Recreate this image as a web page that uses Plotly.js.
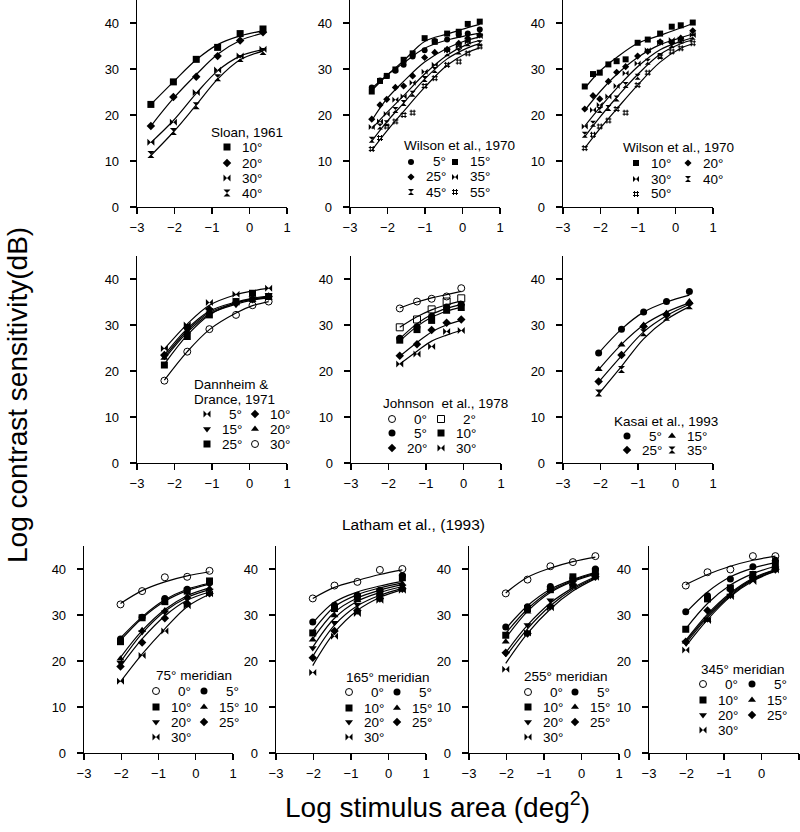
<!DOCTYPE html>
<html><head><meta charset="utf-8">
<script src="https://cdn.plot.ly/plotly-3.0.1.min.js"></script>
<style>body{margin:0;background:#fff}</style>
</head><body>
<div id="chart" style="width:800px;height:832px"></div>
<script>
// ================= DATA =================
// Sloan, 1961
const sloanNames = ['10°','20°','30°','40°'];
const sloanX = [-2.63,-2.03,-1.42,-0.85,-0.25,0.36];
const sloan10 = [22.3,27.2,32.1,34.7,37.7,38.7];
const sloan20 = [17.6,23.9,28.3,32.8,36.2,38.0];
const sloan30 = [14.1,18.4,24.9,29.8,32.8,34.3];
const sloan40 = [11.4,16.4,22.0,28.1,32.3,33.8];
const sloan10Fit = [22.3,27.2,32.0,35.3,37.2,38.3];
const sloan20Fit = [17.6,23.6,28.8,33.2,36.2,37.8];
const sloan30Fit = [14.0,18.8,24.7,29.6,32.8,34.2];
const sloan40Fit = [11.2,16.3,22.2,27.8,32.0,33.9];

// Wilson et al., 1970 (panel A)
const wilsonX = [-2.42,-2.2,-2.02,-1.79,-1.57,-1.33,-1.01,-0.74,-0.41,-0.1,0.14,0.46];
const wilsonFitX = [-2.42,-2.02,-1.57,-1.01,-0.41,0.14,0.46];
const wilsonANames = ['5°','15°','25°','35°','45°','55°'];
const wA5  = [26.0,27.5,28.5,29.6,30.9,32.7,34.1,36.1,36.4,37.4,37.7,38.6];
const wA15 = [25.1,27.4,28.5,29.9,32.0,33.4,36.7,35.9,37.7,38.1,39.8,40.3];
const wA25 = [19.1,22.2,23.4,26.0,26.3,28.5,32.5,33.6,34.3,35.6,36.7,37.4];
const wA35 = [17.4,18.6,20.2,23.3,24.0,27.0,29.4,30.9,34.1,34.9,35.9,37.2];
const wA45 = [14.6,17.5,18.2,21.1,22.6,24.6,27.8,29.8,33.4,33.8,35.6,35.6];
const wA55 = [12.6,15.0,17.5,18.6,20.0,20.5,26.3,28.0,30.9,31.6,33.4,34.9];
const wA5Fit  = [25.8,28.6,31.3,34.5,36.3,37.3,37.8];
const wA15Fit = [25.3,28.6,31.8,36.0,37.6,39.0,39.7];
const wA25Fit = [18.8,23.5,27.3,31.5,34.5,36.3,37.0];
const wA35Fit = [17.0,20.5,24.2,28.9,33.0,35.4,36.2];
const wA45Fit = [14.3,18.5,22.6,27.8,32.2,34.6,35.5];
const wA55Fit = [12.3,16.5,20.8,26.0,30.8,33.6,34.6];

// Wilson et al., 1970 (panel B)
const wilsonBNames = ['10°','20°','30°','40°','50°'];
const wB10 = [26.2,28.9,29.2,31.0,31.7,32.1,35.7,36.4,37.7,39.2,39.5,40.1];
const wB20 = [21.3,24.2,23.5,27.3,29.3,30.5,32.8,33.8,35.9,35.7,36.7,38.3];
const wB30 = [17.5,21.1,22.2,24.0,26.3,29.1,31.2,34.1,35.7,36.3,36.4,37.4];
const wB40 = [15.7,18.1,21.1,21.5,23.6,26.5,28.3,31.6,32.8,35.2,36.2,37.0];
const wB50 = [12.8,15.7,17.5,18.8,21.3,20.5,26.5,29.2,32.7,33.8,34.5,35.6];
const wB10Fit = [25.8,29.5,32.5,35.6,37.3,38.9,39.9];
const wB20Fit = [21.0,25.0,28.8,32.5,35.3,36.8,37.6];
const wB30Fit = [17.6,21.6,25.8,30.5,34.2,36.0,36.8];
const wB40Fit = [15.3,19.5,23.8,28.8,33.2,35.5,36.3];
const wB50Fit = [12.8,17.0,21.3,26.5,31.5,34.5,35.5];

// Dannheim & Drance, 1971
const dannNames = ['5°','10°','15°','20°','25°','30°'];
const dannX = [-2.27,-1.66,-1.07,-0.36,0.08,0.51];
const dann5  = [24.9,30.0,34.9,36.7,36.9,38.0];
const dann10 = [23.5,29.4,33.4,34.9,35.6,36.2];
const dann15 = [23.1,28.9,33.3,34.4,35.8,36.5];
const dann20 = [22.8,28.6,32.9,34.7,35.4,35.8];
const dann25 = [21.3,27.5,32.2,35.1,36.9,36.2];
const dann30 = [17.9,24.2,29.1,32.2,34.3,35.1];
const dann5Fit  = [24.8,30.2,34.3,36.6,37.4,38.0];
const dann10Fit = [23.5,29.2,33.0,35.0,35.8,36.3];
const dann15Fit = [23.0,28.8,32.7,34.8,35.6,36.1];
const dann20Fit = [22.6,28.4,32.4,34.5,35.4,35.9];
const dann25Fit = [21.5,27.8,32.2,34.8,35.6,36.0];
const dann30Fit = [18.0,24.2,29.0,32.6,34.2,35.1];

// Johnson et al., 1978
const johnNames = ['0°','2°','5°','10°','20°','30°'];
const johnX = [-1.70,-1.24,-0.85,-0.45,-0.06];
const john0  = [33.6,35.1,35.7,36.2,38.0];
const john2  = [29.5,31.2,33.4,35.1,35.8];
const john5  = [27.1,29.6,31.9,33.9,34.5];
const john10 = [26.7,29.0,31.0,33.2,33.8];
const john20 = [23.3,25.8,28.9,30.5,31.2];
const john30 = [21.5,23.7,25.3,28.6,28.8];
const john0Fit  = [33.7,35.0,35.9,36.6,37.3];
const john2Fit  = [29.5,31.8,33.3,34.4,35.2];
const john5Fit  = [27.0,30.3,32.3,33.6,34.5];
const john10Fit = [26.5,29.7,31.7,33.0,33.9];
const john20Fit = [23.2,26.2,28.5,30.0,31.0];
const john30Fit = [21.5,24.3,26.5,27.8,28.8];

// Kasai et al., 1993
const kasaiNames = ['5°','15°','25°','35°'];
const kasaiX = [-2.05,-1.44,-0.85,-0.24,0.37];
const kasai5  = [23.9,29.1,32.8,35.1,37.3];
const kasai15 = [20.4,25.7,30.0,32.6,35.1];
const kasai25 = [17.7,23.5,29.7,32.2,34.7];
const kasai35 = [15.2,20.3,28.3,31.7,34.2];
const kasai5Fit  = [23.9,29.1,32.8,35.0,36.5];
const kasai15Fit = [20.3,25.8,30.0,32.8,34.8];
const kasai25Fit = [17.6,23.3,28.5,32.0,34.5];
const kasai35Fit = [15.0,21.0,27.0,31.2,34.0];

// Latham et al., 1993
const lathamNames = ['0°','5°','10°','15°','20°','25°','30°'];
const lathamX = [-2.02,-1.44,-0.83,-0.23,0.37];
// 75° meridian
const m75_0  = [32.3,35.2,38.2,38.3,39.6];
const m75_5  = [24.8,29.5,33.6,35.6,37.0];
const m75_10 = [24.2,29.4,32.9,35.2,37.4];
const m75_15 = [20.5,26.7,31.0,34.0,35.8];
const m75_20 = [19.6,26.3,30.6,33.5,35.3];
const m75_25 = [18.8,24.0,29.3,32.5,34.7];
const m75_30 = [15.6,21.2,26.5,32.0,34.6];
const m75_0Fit  = [32.5,35.3,37.2,38.5,39.4];
const m75_5Fit  = [25.0,29.6,33.3,35.6,36.9];
const m75_10Fit = [24.5,29.3,33.0,35.3,36.7];
const m75_15Fit = [20.8,26.6,31.2,34.2,35.9];
const m75_20Fit = [19.8,26.0,30.8,33.8,35.5];
const m75_25Fit = [18.8,24.8,29.8,33.2,35.0];
const m75_30Fit = [15.5,21.5,27.0,31.8,34.5];
// 165° meridian
const m165_0  = [33.6,36.4,37.2,39.8,40.0];
const m165_5  = [28.5,32.1,34.3,35.4,38.6];
const m165_10 = [26.1,31.4,33.9,35.0,38.1];
const m165_15 = [24.6,29.9,33.2,34.5,36.8];
const m165_20 = [22.8,28.3,32.3,34.1,36.2];
const m165_25 = [20.7,26.5,31.0,33.6,35.7];
const m165_30 = [17.5,25.4,30.3,33.2,35.4];
const m165_0Fit  = [33.6,36.0,37.5,38.8,39.8];
const m165_5Fit  = [28.3,32.8,35.0,36.3,37.3];
const m165_10Fit = [26.5,31.8,34.4,35.9,37.0];
const m165_15Fit = [24.8,30.6,33.7,35.4,36.6];
const m165_20Fit = [23.0,29.3,33.0,34.9,36.2];
const m165_25Fit = [21.0,27.8,32.0,34.3,35.8];
const m165_30Fit = [19.0,26.2,31.0,33.8,35.5];
// 255° meridian
const m255_0  = [34.7,37.7,40.6,41.5,42.8];
const m255_5  = [27.4,31.8,36.2,38.0,40.0];
const m255_10 = [25.6,31.4,35.5,38.3,39.5];
const m255_15 = [24.2,30.7,35.8,37.7,39.1];
const m255_20 = [21.6,27.8,33.2,37.0,38.7];
const m255_25 = [21.8,26.0,31.9,36.6,38.3];
const m255_30 = [18.2,26.1,31.6,36.2,38.2];
const m255_0Fit  = [34.8,38.2,40.2,41.6,42.6];
const m255_5Fit  = [27.0,32.0,35.6,37.7,39.3];
const m255_10Fit = [26.0,31.3,35.2,37.5,39.1];
const m255_15Fit = [25.0,30.8,34.9,37.3,38.9];
const m255_20Fit = [21.8,27.8,32.6,35.9,38.3];
const m255_25Fit = [21.0,27.0,32.0,35.6,38.1];
const m255_30Fit = [19.5,26.0,31.3,35.2,37.9];
// 345° meridian
const m345_0  = [36.4,39.3,39.9,42.8,42.8];
const m345_5  = [30.7,34.2,37.8,40.5,41.9];
const m345_10 = [26.9,33.5,35.9,38.8,41.2];
const m345_15 = [24.2,28.9,34.4,38.3,40.5];
const m345_20 = [24.0,29.1,34.2,37.8,40.1];
const m345_25 = [24.2,31.0,35.5,38.2,39.9];
const m345_30 = [22.4,28.8,34.0,37.3,39.8];
const m345_0Fit  = [36.6,38.8,40.6,41.9,42.8];
const m345_5Fit  = [30.5,35.0,38.3,40.2,41.4];
const m345_10Fit = [27.0,32.5,36.5,39.0,40.6];
const m345_15Fit = [24.2,29.8,34.5,37.8,39.8];
const m345_20Fit = [23.8,29.5,34.2,37.6,39.6];
const m345_25Fit = [24.5,30.2,34.8,38.0,39.9];
const m345_30Fit = [23.2,29.0,34.0,37.4,39.5];

// Axis ticks
const xTicks = [-3,-2,-1,0,1];
const yTicks = [0,10,20,30,40];

// ================= LAYOUT / STYLE =================
const W = 800, H = 832;
const FONT = '"Liberation Sans", Arial, Helvetica, sans-serif';
const latSyms = ['circle-open','circle','square','triangle-up','triangle-down','diamond','bowtie'];
function latLeg(c1, c2, r){ return [[c1,r[0]],[c2,r[0]],[c1,r[1]],[c2,r[1]],[c1,r[2]],[c2,r[2]],[c1,r[3]]]; }

const panels = [
 {gx:[137,287], gy:[0,207], x:sloanX, fx:sloanX, names:sloanNames,
  ys:[sloan10,sloan20,sloan30,sloan40], fits:[sloan10Fit,sloan20Fit,sloan30Fit,sloan40Fit],
  syms:['square','diamond','bowtie','hourglass'], size:7,
  leg:[[227,147],[227,163],[227,178],[227,193]],
  titles:[['Sloan, 1961',210,132]]},
 {gx:[350,500], gy:[0,207], x:wilsonX, fx:wilsonFitX, names:wilsonANames,
  ys:[wA5,wA15,wA25,wA35,wA45,wA55], fits:[wA5Fit,wA15Fit,wA25Fit,wA35Fit,wA45Fit,wA55Fit],
  syms:['circle','square','diamond','bowtie','hourglass','hash-open'], size:6,
  leg:[[411,162],[455,162],[411,177],[455,177],[411,192],[455,192]],
  titles:[['Wilson et al., 1970',403,146]]},
 {gx:[563,713], gy:[0,207], x:wilsonX, fx:wilsonFitX, names:wilsonBNames,
  ys:[wB10,wB20,wB30,wB40,wB50], fits:[wB10Fit,wB20Fit,wB30Fit,wB40Fit,wB50Fit],
  syms:['square','diamond','bowtie','hourglass','hash-open'], size:6,
  leg:[[636,163],[688,163],[636,179],[688,179],[636,194]],
  titles:[['Wilson et al., 1970',622,147]]},
 {gx:[137,287], gy:[256,463], x:dannX, fx:dannX, names:dannNames,
  ys:[dann5,dann10,dann15,dann20,dann25,dann30], fits:[dann5Fit,dann10Fit,dann15Fit,dann20Fit,dann25Fit,dann30Fit],
  syms:['bowtie','diamond','triangle-down','triangle-up','square','circle-open'], size:7,
  leg:[[207,414],[255,414],[207,429],[255,429],[207,444],[255,444]],
  titles:[['Dannheim &',193,384],['Drance, 1971',193,399]]},
 {gx:[351,501], gy:[256,463], x:johnX, fx:johnX, names:johnNames,
  ys:[john0,john2,john5,john10,john20,john30], fits:[john0Fit,john2Fit,john5Fit,john10Fit,john20Fit,john30Fit],
  syms:['circle-open','square-open','circle','square','diamond','bowtie'], size:7,
  leg:[[392,419],[441,419],[392,433],[441,433],[392,448],[441,448]],
  titles:[['Johnson\u00a0 et al., 1978',382,403]]},
 {gx:[563,713], gy:[256,463], x:kasaiX, fx:kasaiX, names:kasaiNames,
  ys:[kasai5,kasai15,kasai25,kasai35], fits:[kasai5Fit,kasai15Fit,kasai25Fit,kasai35Fit],
  syms:['circle','triangle-up','diamond','hourglass'], size:7,
  leg:[[627,436],[672,436],[627,450],[672,450]],
  titles:[['Kasai et al., 1993',613,421]]},
 {gx:[84,233], gy:[546,753], x:lathamX, fx:lathamX, names:lathamNames,
  ys:[m75_0,m75_5,m75_10,m75_15,m75_20,m75_25,m75_30], fits:[m75_0Fit,m75_5Fit,m75_10Fit,m75_15Fit,m75_20Fit,m75_25Fit,m75_30Fit],
  syms:latSyms, size:7, leg:latLeg(156,204,[691,707,722,737]),
  titles:[['75° meridian',155,675]]},
 {gx:[276,426], gy:[546,753], x:lathamX, fx:lathamX, names:lathamNames,
  ys:[m165_0,m165_5,m165_10,m165_15,m165_20,m165_25,m165_30], fits:[m165_0Fit,m165_5Fit,m165_10Fit,m165_15Fit,m165_20Fit,m165_25Fit,m165_30Fit],
  syms:latSyms, size:7, leg:latLeg(349,397,[692,708,722,737]),
  titles:[['165° meridian',345,677]]},
 {gx:[469,619], gy:[546,753], x:lathamX, fx:lathamX, names:lathamNames,
  ys:[m255_0,m255_5,m255_10,m255_15,m255_20,m255_25,m255_30], fits:[m255_0Fit,m255_5Fit,m255_10Fit,m255_15Fit,m255_20Fit,m255_25Fit,m255_30Fit],
  syms:latSyms, size:7, leg:latLeg(528,575,[692,707,722,737]),
  titles:[['255° meridian',523,676]]},
 {gx:[649,799], gy:[546,753], x:lathamX, fx:lathamX, names:lathamNames,
  ys:[m345_0,m345_5,m345_10,m345_15,m345_20,m345_25,m345_30], fits:[m345_0Fit,m345_5Fit,m345_10Fit,m345_15Fit,m345_20Fit,m345_25Fit,m345_30Fit],
  syms:latSyms, size:7, leg:latLeg(703,752,[684,700,715,730]),
  titles:[['345° meridian',700,669]]}
];

const layout = {
  width: W, height: H, margin:{l:0,r:0,t:0,b:0},
  paper_bgcolor:'#fff', plot_bgcolor:'rgba(0,0,0,0)',
  font:{family:FONT, color:'#000', size:13},
  annotations: [], hovermode:false
};
const traces = [];
let nLeg = 0;
const LABEL_OFFSET = 36;   // legend label right edge, px right of the legend symbol
function px(x){ return x / W; }
function py(y){ return 1 - y / H; }
function newLegend(mx, my){
  nLeg++;
  const id = nLeg === 1 ? 'legend' : 'legend' + nLeg;
  layout[id] = {x: px(mx - 20), y: py(my), xanchor:'left', yanchor:'middle',
    bgcolor:'rgba(0,0,0,0)', borderwidth:0, orientation:'v',
    font:{family:FONT, size:6, color:'rgba(255,255,255,0)'}, itemclick:false, itemdoubleclick:false};
  return id;
}
function annot(text, x, y, opts){
  layout.annotations.push(Object.assign({text, x:px(x), y:py(y), xref:'paper', yref:'paper',
    showarrow:false, xanchor:'left', yanchor:'middle', borderpad:0,
    font:{family:FONT, size:13.5, color:'#000'}}, opts||{}));
}

panels.forEach((p, i) => {
  const n = i === 0 ? '' : String(i + 1);
  const axStyle = {showline:true, linecolor:'#000', linewidth:1.3, ticks:'outside', ticklen:6,
    tickwidth:1.3, tickcolor:'#000', showgrid:false, zeroline:false, fixedrange:true,
    tickfont:{family:FONT, size:13, color:'#000'}};
  layout['xaxis' + n] = Object.assign({}, axStyle, {domain:[px(p.gx[0]), px(p.gx[1])], anchor:'y' + n,
    range:[-3,1], tickmode:'array', tickvals:xTicks, ticklabelstandoff:2});
  layout['yaxis' + n] = Object.assign({}, axStyle, {domain:[py(p.gy[1]), py(p.gy[0])], anchor:'x' + n,
    range:[0,45], tickmode:'array', tickvals:yTicks, ticklabelstandoff:8});
  p.ys.forEach((yv, k) => {
    traces.push({type:'scatter', mode:'lines', x:p.fx, y:p.fits[k], xaxis:'x' + n, yaxis:'y' + n,
      line:{shape:'spline', smoothing:1, color:'#000', width:1.2}, showlegend:false, hoverinfo:'skip', cliponaxis:false});
    const sym = p.syms[k];
    const open = /open/.test(sym);
    const lx = p.leg[k][0], ly = p.leg[k][1];
    traces.push({type:'scatter', mode:'markers', x:p.x, y:yv, xaxis:'x' + n, yaxis:'y' + n,
      name:'\u00a0', legend:newLegend(lx, ly), showlegend:true,
      cliponaxis:false,
      marker:{symbol:sym, size:(sym === 'diamond' ? p.size - 0.5 : p.size), color:'#000',
        line:{color:'#000', width: open ? 1 : 0}}});
    // legend label, right-aligned like the reference
    annot(p.names[k], lx + LABEL_OFFSET, ly, {xanchor:'right'});
  });
  p.titles.forEach(t => annot(t[0], t[1], t[2]));
});

annot('Latham et al., (1993)', 414, 524, {xanchor:'center', font:{family:FONT, size:15.5, color:'#000'}});
annot('Log contrast sensitivity(dB)', 17, 395, {xanchor:'center', textangle:-90, font:{family:FONT, size:28, color:'#000'}});
annot('Log stimulus area (deg<sup>2</sup>)', 437, 805, {xanchor:'center', font:{family:FONT, size:28, color:'#000'}});

Plotly.newPlot('chart', traces, layout, {displayModeBar:false, staticPlot:true});
</script>
</body></html>
